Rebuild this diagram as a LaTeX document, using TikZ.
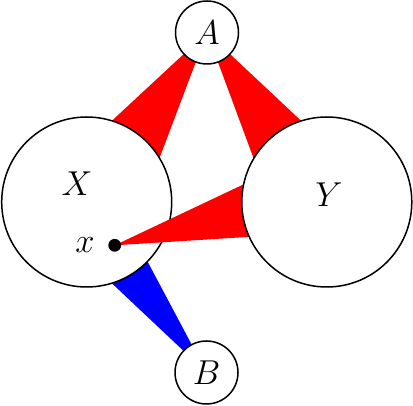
\documentclass[tikz,border=0pt]{standalone}
\usetikzlibrary{calc}
\begin{document}
\begin{tikzpicture}[x=0.5pt,y=-0.5pt,line width=0.75pt,
  big/.style={circle,draw,fill=white,minimum size=85pt,inner sep=0pt},
  small/.style={circle,draw,fill=white,minimum size=31.5pt,inner sep=0pt,font=\fontsize{17}{20}\selectfont},
  lbl/.style={inner sep=0pt,font=\fontsize{17}{20}\selectfont},
  redwedge/.style={fill=red,draw=none},
  bluewedge/.style={fill=blue,draw=none}]
\useasboundingbox (0,0) rectangle (413,406);
% centres
\coordinate (cX) at (86.7,202);
\coordinate (cY) at (326.8,202);
\coordinate (cA) at (207,32.5);
\coordinate (cB) at (206.5,372.5);
\coordinate (cx) at (114.7,245.3);
% wedges below the big circles
\fill[redwedge] (cA) -- ($(cX)+(6.3,-63.7)$) -- ($(cX)+(63.9,-20.4)$) -- cycle;
\fill[redwedge] (cA) -- ($(cY)+(-64.6,-20.4)$) -- ($(cY)+(-8.2,-64.8)$) -- cycle;
\fill[bluewedge] (cB) -- ($(cX)+(7.9,65)$) -- ($(cX)+(49.9,39)$) -- cycle;
% circle X
\node[big] (X) at (cX) {};
% wedge from x to Y (over X)
\fill[redwedge] (cx) -- ($(cY)+(-59.6,-28.8)$) -- ($(cY)+(-51.6,33.2)$) -- cycle;
% circle Y
\node[big] (Y) at (cY) {};
% small circles
\node[small] (A) at (cA) {$A$};
\node[small] (B) at (cB) {$B$};
% point x
\fill (cx) circle[radius=3.2pt];
% labels
\node[lbl] (lX) at (77,183.5) {$X$};
\node[lbl] (lY) at (329,195) {$Y$};
\node[lbl] (lx) at (85,245) {$x$};
\end{tikzpicture}
\end{document}
